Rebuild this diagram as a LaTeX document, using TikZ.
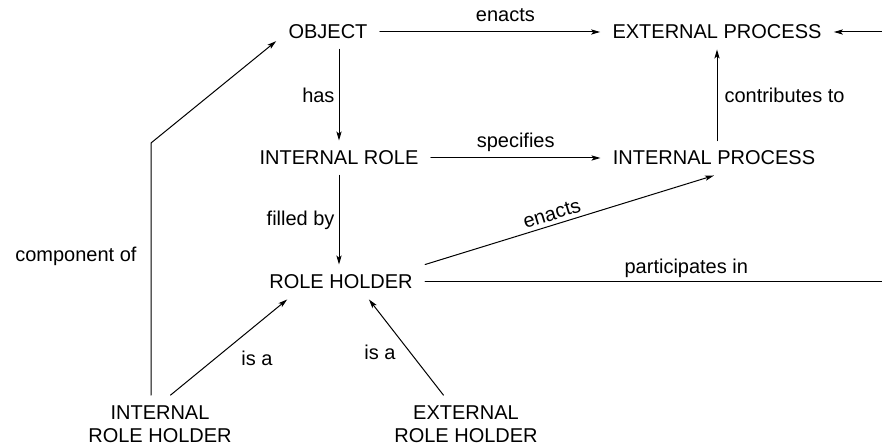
\documentclass[tikz,border=0pt]{standalone}
\usepackage{fontspec}
\setmainfont{Liberation Sans}
\usetikzlibrary{arrows.meta,calc}
\tikzset{concept/.style=
	{font=\fontsize{10}{11.5}\selectfont,
		inner xsep=6pt, inner ysep=5pt, align=center},
	link/.style={-{Stealth[length=4.5pt,width=2.6pt,inset=1pt]}, line width=0.5pt},
	tag/.style={font=\fontsize{10}{11.5}\selectfont, inner sep=2pt},
}

\begin{document}
\begin{tikzpicture}[x=0.5pt,y=-0.5pt,line cap=round,line join=round]
			\useasboundingbox (0,0) rectangle (882,448);
			\clip (0,0) rectangle (882,448);
			
			\node[concept] (obj) at (328,32) {OBJECT};
			\node[concept] (ep) at (717,32) {EXTERNAL PROCESS};
			\node[concept] (ir) at (339,158) {INTERNAL ROLE};
			\node[concept] (ip) at (714,158) {INTERNAL PROCESS};
			\node[concept] (rh) at (341,282) {ROLE HOLDER};
			\node[concept] (irh) at (160,424) {INTERNAL\\ROLE HOLDER};
			\node[concept] (erh) at (466,424) {EXTERNAL\\ROLE HOLDER};
			\coordinate (bend) at (151,143);
			\coordinate (far) at (900,0);
			
			\draw[link] (obj) -- (ep) node[tag, pos=.57, above=3pt] {enacts};
			\draw[link] (obj.south -| ir.north) -- (ir.north) node[tag, midway, left] {has};
			\draw[link] (ir) -- (ip) node[tag, midway, above=1pt] {specifies};
			\draw[link] (ir.south) -- (ir.south |- rh.north) node[tag, midway, left] {filled by};
			\draw[link] (ip.north -| ep.south) -- (ep.south) node[tag, midway, right=1.5pt] {contributes to};
			\draw[link] (rh.north east) -- (ip.south) node[tag, pos=.45, sloped, above] {enacts};
			\draw[link] (rh.east) -- (far |- rh.east) node[tag, pos=.55, above] {participates in}
				-- (far |- ep.east) -- (ep.east);
			\draw[link] (irh.north -| bend) -- (bend) node[tag, pos=.55, left=5pt] {component of}
				-- (obj.190);
			\draw[link] (irh.70) -- (rh.198) node[tag, pos=.38, right=11pt] {is a};
			\draw[link] (erh.128) -- (rh.328) node[tag, pos=.45, left=5pt] {is a};
		\end{tikzpicture}
\end{document}
